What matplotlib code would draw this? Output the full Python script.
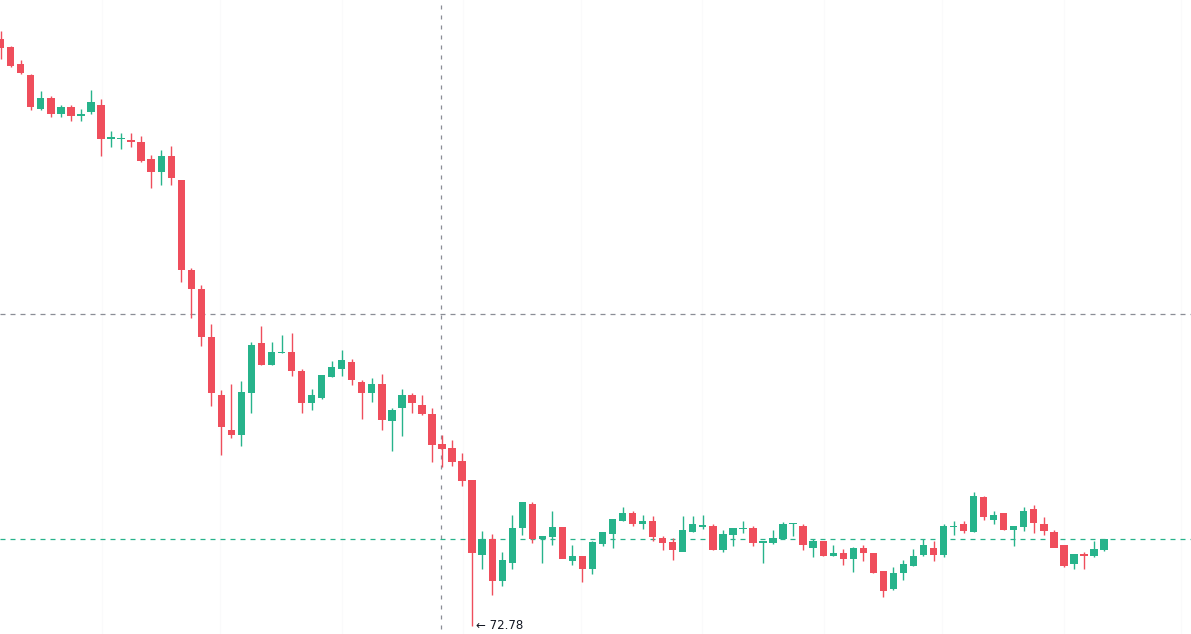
import matplotlib
matplotlib.use("Agg")
import matplotlib.pyplot as plt
import numpy as np

opens = [84.52, 84.35, 84.02, 83.80, 83.11, 83.33, 83.01, 83.15, 82.97, 83.05,
         83.20, 82.51, 82.51, 82.49, 82.45, 82.12, 81.85, 82.17, 81.70, 79.90,
         79.51, 78.55, 77.39, 76.71, 76.59, 77.43, 78.43, 77.99, 78.23, 78.26,
         77.88, 77.23, 77.34, 77.75, 77.91, 78.06, 77.66, 77.43, 77.62, 76.87,
         77.13, 77.39, 77.20, 77.01, 76.42, 76.33, 76.08, 75.70, 74.21, 74.51,
         73.67, 74.05, 74.73, 75.22, 74.51, 74.57, 74.75, 74.08, 74.18, 73.92,
         74.42, 74.61, 74.87, 75.03, 74.81, 74.88, 74.53, 74.45, 74.27, 74.65,
         74.77, 74.78, 74.30, 74.60, 74.72, 74.73, 74.43, 74.43, 74.51, 74.81,
         74.78, 74.35, 74.48, 74.17, 74.23, 74.13, 74.35, 74.23, 73.88, 73.52,
         73.83, 73.97, 74.20, 74.35, 74.20, 74.77, 74.82, 74.65, 75.35, 74.90,
         75.03, 74.69, 74.77, 75.12, 74.82, 74.65, 74.40, 74.01, 74.22, 74.17,
         74.30]
highs = [84.67, 84.37, 84.10, 83.82, 83.47, 83.38, 83.20, 83.20, 83.11, 83.50,
         83.31, 82.67, 82.63, 82.63, 82.57, 82.20, 82.30, 82.38, 81.70, 79.93,
         79.60, 78.82, 77.49, 77.62, 77.67, 78.45, 78.78, 78.45, 78.60, 78.63,
         77.91, 77.51, 77.79, 78.07, 78.29, 78.11, 77.69, 77.73, 77.81, 77.13,
         77.51, 77.43, 77.40, 77.13, 76.60, 76.50, 76.23, 75.70, 74.67, 74.62,
         74.25, 75.00, 75.25, 75.25, 74.58, 75.08, 74.75, 74.40, 74.18, 74.47,
         74.65, 74.91, 75.15, 75.08, 75.00, 74.97, 74.57, 74.53, 74.97, 74.97,
         75.00, 74.82, 74.70, 74.73, 74.88, 74.78, 74.48, 74.70, 74.85, 74.83,
         74.82, 74.51, 74.48, 74.40, 74.31, 74.35, 74.39, 74.23, 73.88, 73.95,
         74.10, 74.32, 74.51, 74.48, 74.82, 74.88, 74.88, 75.45, 75.38, 75.07,
         75.03, 74.78, 75.15, 75.20, 74.95, 74.70, 74.40, 74.22, 74.25, 74.48,
         74.52]
lows = [84.12, 83.95, 83.81, 83.10, 83.10, 82.95, 82.95, 82.88, 82.88, 83.02,
        82.17, 82.35, 82.31, 82.35, 82.05, 81.53, 81.60, 81.60, 79.65, 78.93,
        78.37, 77.18, 76.20, 76.53, 76.38, 77.03, 77.99, 77.99, 78.23, 77.78,
        77.03, 77.10, 77.32, 77.75, 77.77, 77.59, 76.91, 77.25, 76.70, 76.28,
        76.57, 77.03, 77.00, 76.05, 75.96, 75.97, 75.57, 72.78, 73.91, 73.40,
        73.58, 73.91, 74.60, 74.43, 74.03, 74.40, 74.13, 74.00, 73.65, 73.81,
        74.37, 74.33, 74.87, 74.78, 74.71, 74.48, 74.30, 74.10, 74.27, 74.65,
        74.71, 74.29, 74.25, 74.37, 74.63, 74.37, 74.03, 74.41, 74.51, 74.58,
        74.30, 74.15, 74.17, 74.17, 74.00, 73.85, 74.07, 73.83, 73.35, 73.50,
        73.70, 73.97, 74.18, 74.07, 74.15, 74.59, 74.63, 74.65, 74.90, 74.82,
        74.69, 74.37, 74.67, 74.63, 74.59, 74.35, 73.95, 73.92, 73.92, 74.15,
        74.28]
closes = [84.33, 83.97, 83.83, 83.15, 83.33, 83.01, 83.15, 82.97, 83.02, 83.25,
          82.51, 82.56, 82.53, 82.45, 82.07, 81.85, 82.17, 81.73, 79.90, 79.51,
          78.55, 77.43, 76.75, 76.59, 77.46, 78.40, 77.99, 78.26, 78.26, 77.87,
          77.23, 77.39, 77.79, 77.95, 78.10, 77.69, 77.43, 77.62, 76.89, 77.10,
          77.39, 77.23, 77.01, 76.40, 76.32, 76.07, 75.67, 74.23, 74.51, 73.67,
          74.10, 74.74, 75.25, 74.51, 74.58, 74.75, 74.13, 74.18, 73.92, 74.45,
          74.65, 74.91, 75.03, 74.82, 74.88, 74.57, 74.43, 74.30, 74.70, 74.82,
          74.79, 74.30, 74.62, 74.73, 74.73, 74.43, 74.48, 74.53, 74.82, 74.83,
          74.39, 74.48, 74.17, 74.23, 74.13, 74.35, 74.23, 73.83, 73.49, 73.83,
          74.01, 74.18, 74.40, 74.20, 74.78, 74.78, 74.68, 75.38, 74.95, 75.00,
          74.69, 74.78, 75.08, 74.83, 74.68, 74.35, 73.97, 74.22, 74.17, 74.32,
          74.52]

low_label = "\u2190 72.78"
crosshair_price = 79.02
crosshair_index = 43.92

UP = "#27B38B"
DOWN = "#EF4E5C"

fig = plt.figure(figsize=(11.91, 6.34), dpi=100)
ax = fig.add_axes([0, 0, 1, 1])
ax.set_axis_off()

n = len(opens)
x = np.arange(n)
o = np.array(opens); h = np.array(highs); l = np.array(lows); c = np.array(closes)
up = c >= o
colors = np.where(up, UP, DOWN)

# very faint grid
for gx in [10.1, 21.9, 34.0, 46.1, 57.9, 69.9, 82.1, 93.8, 106.0, 117.7]:
    ax.axvline(gx, color="#FAFAFB", lw=0.8, zorder=0)

ax.vlines(x, l, h, colors=colors, lw=1.0, zorder=2)
bottoms = np.minimum(o, c)
heights = np.maximum(np.abs(c - o), 0.02)
ax.bar(x, heights, bottom=bottoms, width=0.73, color=colors, lw=0, zorder=3)

# crosshair
ax.axhline(crosshair_price, color="#8A8D96", lw=0.9, ls=(0, (4, 4)), zorder=1)
ax.axvline(crosshair_index, ymin=0.008, ymax=0.994, color="#8A8D96", lw=0.9,
           ls=(0, (3.2, 4.8)), zorder=1)
# last price line
ax.axhline(closes[-1], color=UP, lw=0.9, ls=(0, (4, 4)), zorder=1)

imin = int(np.argmin(l))
ax.text(imin + 0.35, l[imin], low_label, fontsize=8.5, color="#131722",
        va="center", ha="left", zorder=4)

ax.set_xlim(-0.07, 118.67)
ax.set_ylim(72.62, 85.30)
fig.savefig("out.png", dpi=100, facecolor="white")
